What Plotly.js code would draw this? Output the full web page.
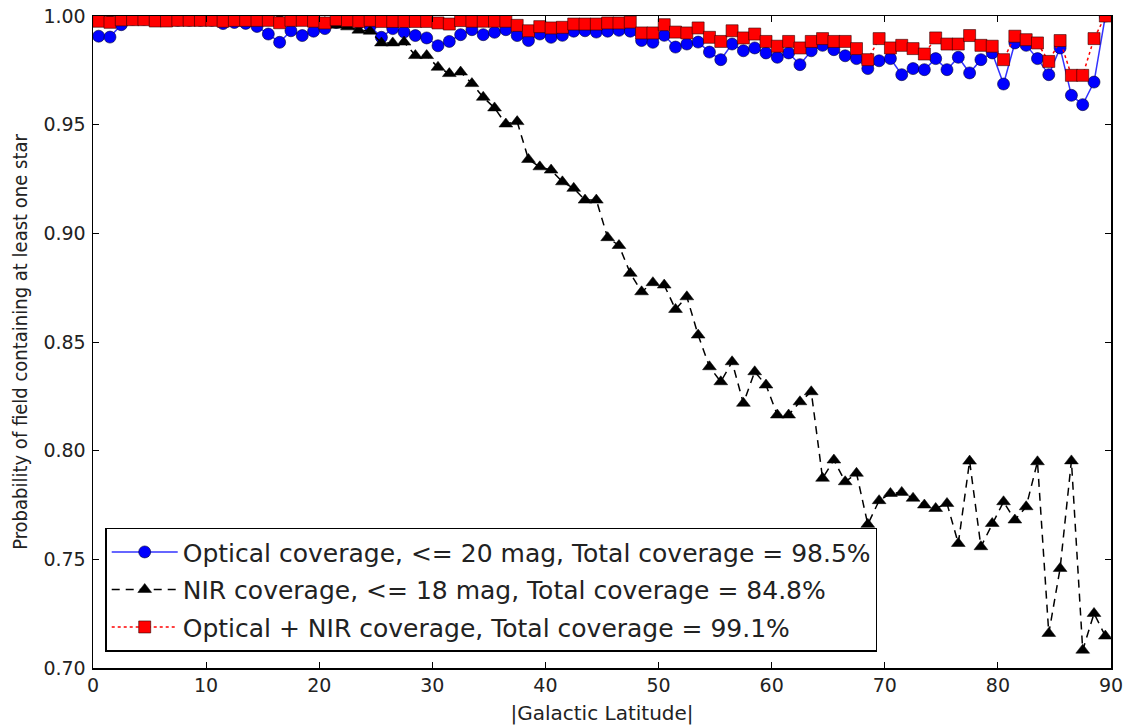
<!DOCTYPE html>
<html>
<head>
<meta charset="utf-8">
<script src="https://cdn.plot.ly/plotly-3.0.1.min.js"></script>
<style>
html,body{margin:0;padding:0;background:#fff;}
#chart{width:1129px;height:725px;}
</style>
</head>
<body>
<div id="chart"></div>
<script>
// Galactic latitude bin centres (degrees)
const latitude = [0.5,1.5,2.5,3.5,4.5,5.5,6.5,7.5,8.5,9.5,10.5,11.5,12.5,13.5,14.5,15.5,16.5,17.5,18.5,19.5,
  20.5,21.5,22.5,23.5,24.5,25.5,26.5,27.5,28.5,29.5,30.5,31.5,32.5,33.5,34.5,35.5,36.5,37.5,38.5,39.5,
  40.5,41.5,42.5,43.5,44.5,45.5,46.5,47.5,48.5,49.5,50.5,51.5,52.5,53.5,54.5,55.5,56.5,57.5,58.5,59.5,
  60.5,61.5,62.5,63.5,64.5,65.5,66.5,67.5,68.5,69.5,70.5,71.5,72.5,73.5,74.5,75.5,76.5,77.5,78.5,79.5,
  80.5,81.5,82.5,83.5,84.5,85.5,86.5,87.5,88.5,89.5];

const optical = [0.9907,0.9903,0.9960,0.9985,0.9985,0.9980,0.9980,0.9980,0.9980,0.9980,
  0.9980,0.9965,0.9970,0.9966,0.9952,0.9917,0.9879,0.9932,0.9910,0.9930,
  0.9942,0.9970,0.9970,0.9968,0.9953,0.9902,0.9942,0.9926,0.9910,0.9899,
  0.9863,0.9883,0.9914,0.9937,0.9914,0.9925,0.9937,0.9910,0.9887,0.9917,
  0.9902,0.9911,0.9930,0.9932,0.9926,0.9930,0.9934,0.9930,0.9887,0.9879,
  0.9911,0.9857,0.9871,0.9880,0.9834,0.9799,0.9871,0.9840,0.9853,0.9830,
  0.9810,0.9830,0.9776,0.9840,0.9865,0.9845,0.9817,0.9804,0.9758,0.9794,
  0.9804,0.9730,0.9758,0.9753,0.9804,0.9753,0.9810,0.9738,0.9799,0.9830,
  0.9687,0.9876,0.9865,0.9804,0.9730,0.9853,0.9635,0.9592,0.9696,1.0000];

const nir = [0.9990,0.9990,0.9990,0.9990,0.9990,0.9990,0.9990,0.9990,0.9990,0.9990,
  0.9990,0.9990,0.9990,0.9990,0.9990,0.9990,0.9990,0.9988,0.9985,0.9975,
  0.9970,0.9958,0.9950,0.9935,0.9930,0.9876,0.9876,0.9880,0.9818,0.9818,
  0.9764,0.9735,0.9742,0.9689,0.9626,0.9577,0.9503,0.9514,0.9340,0.9306,
  0.9291,0.9237,0.9207,0.9153,0.9153,0.8980,0.8944,0.8816,0.8731,0.8773,
  0.8762,0.8650,0.8708,0.8532,0.8386,0.8317,0.8409,0.8218,0.8363,0.8302,
  0.8164,0.8164,0.8225,0.8271,0.7873,0.7957,0.7857,0.7896,0.7661,0.7770,
  0.7803,0.7808,0.7781,0.7750,0.7734,0.7757,0.7573,0.7952,0.7558,0.7665,
  0.7765,0.7681,0.7742,0.7949,0.7159,0.7458,0.7953,0.7082,0.7251,0.7147];

const combined = [0.9976,0.9971,0.9982,0.9983,0.9983,0.9977,0.9977,0.9980,0.9980,0.9980,
  0.9980,0.9976,0.9980,0.9980,0.9980,0.9980,0.9969,0.9980,0.9980,0.9976,
  0.9968,0.9983,0.9979,0.9975,0.9980,0.9975,0.9975,0.9975,0.9975,0.9975,
  0.9968,0.9963,0.9979,0.9976,0.9976,0.9976,0.9976,0.9957,0.9932,0.9951,
  0.9945,0.9948,0.9963,0.9963,0.9963,0.9968,0.9968,0.9972,0.9922,0.9922,
  0.9960,0.9926,0.9922,0.9945,0.9902,0.9883,0.9932,0.9899,0.9917,0.9883,
  0.9861,0.9883,0.9853,0.9883,0.9896,0.9883,0.9883,0.9850,0.9799,0.9896,
  0.9853,0.9865,0.9850,0.9825,0.9899,0.9871,0.9871,0.9910,0.9865,0.9861,
  0.9799,0.9907,0.9891,0.9876,0.9791,0.9887,0.9727,0.9727,0.9896,1.0000];

const seriesNames = [
  'Optical coverage, <= 20 mag, Total coverage = 98.5%',
  'NIR coverage, <= 18 mag, Total coverage = 84.8%',
  'Optical + NIR coverage, Total coverage = 99.1%'
];
const xTicks = [0,10,20,30,40,50,60,70,80,90];
const yTicks = [0.70,0.75,0.80,0.85,0.90,0.95,1.00];

const traces = [
  {x: latitude, y: optical, name: seriesNames[0], legendgroup: 'g1', type: 'scatter', mode: 'lines+markers',
   line: {color: '#3333ff', width: 1.5},
   marker: {symbol: 'circle', size: 12, color: '#0000ff', line: {color: '#000033', width: 0.6}}},
  {x: latitude, y: nir, name: seriesNames[1], legendgroup: 'g2', type: 'scatter', mode: 'lines+markers',
   line: {color: '#000000', width: 1.5, dash: '8px,6px'},
   marker: {symbol: 'triangle-up', size: 12, color: '#000000', line: {color: '#000000', width: 0.5}}},
  {x: latitude, y: combined, name: seriesNames[2], legendgroup: 'g3', type: 'scatter', mode: 'lines+markers',
   line: {color: '#ff0000', width: 1.5, dash: 'dot'},
   marker: {symbol: 'square', size: 12, color: '#ff0000', line: {color: '#330000', width: 0.6}}}
];

const layout = {
  width: 1129, height: 725,
  margin: {l: 93, r: 18, t: 16, b: 57},
  paper_bgcolor: '#ffffff', plot_bgcolor: '#ffffff',
  font: {family: 'DejaVu Sans, sans-serif', color: '#222222'},
  showlegend: true,
  legend: {
    x: 0.012, y: 0.025, xanchor: 'left', yanchor: 'bottom',
    bgcolor: '#ffffff', bordercolor: '#000000', borderwidth: 1.5,
    font: {family: 'DejaVu Sans, sans-serif', size: 25, color: '#222222'},
    itemwidth: 66, tracegroupgap: 2
  },
  xaxis: {
    range: [0, 90], tickvals: xTicks, ticktext: xTicks.map(String),
    showgrid: false, zeroline: false,
    showline: true, linecolor: '#000000', linewidth: 1.5, mirror: 'ticks',
    ticks: 'inside', ticklen: 6, tickwidth: 1, tickcolor: '#000000',
    tickfont: {family: 'DejaVu Sans, sans-serif', size: 19, color: '#222222'},
    title: {text: '|Galactic Latitude|', standoff: 10,
      font: {family: 'DejaVu Sans, sans-serif', size: 20, color: '#222222'}}
  },
  yaxis: {
    range: [0.70, 1.00], tickvals: yTicks, ticktext: yTicks.map(v => v.toFixed(2)),
    showgrid: false, zeroline: false,
    showline: true, linecolor: '#000000', linewidth: 1.5, mirror: 'ticks',
    ticks: 'inside', ticklen: 6, tickwidth: 1, tickcolor: '#000000',
    ticklabelstandoff: 2,
    tickfont: {family: 'DejaVu Sans, sans-serif', size: 19, color: '#222222'},
    title: {text: 'Probability of field containing at least one star', standoff: 10,
      font: {family: 'DejaVu Sans Condensed, DejaVu Sans, sans-serif', size: 20, color: '#222222'}}
  }
};

Plotly.newPlot('chart', traces, layout, {staticPlot: true, displayModeBar: false});
</script>
</body>
</html>
